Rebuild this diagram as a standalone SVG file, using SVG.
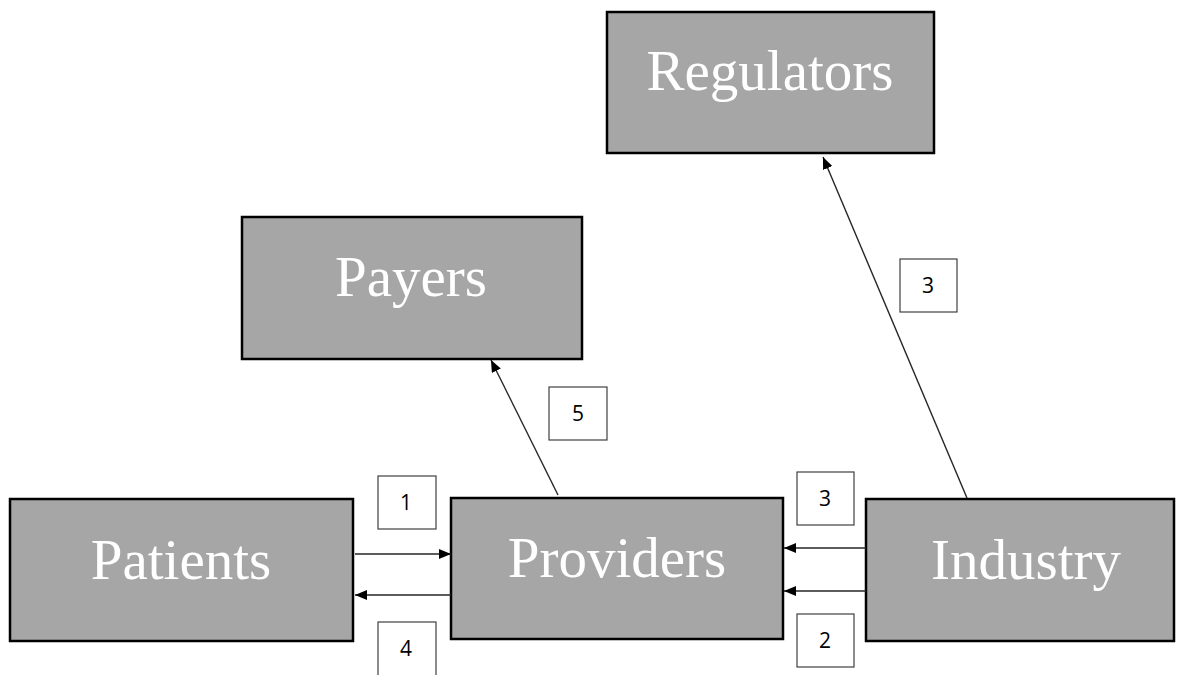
<svg xmlns="http://www.w3.org/2000/svg" width="1184" height="675" viewBox="0 0 1184 675">
<style>
.node rect{fill:#a6a6a6;stroke:#000;stroke-width:2.5}
.node text{font-family:"Liberation Serif","Times New Roman",serif;font-size:57px;fill:#fff;text-anchor:middle}
.lbl rect{fill:#fff;stroke:#404040;stroke-width:1.2}
.lbl text{font-family:"Open Sans","Liberation Sans",sans-serif;font-size:21px;fill:#000;text-anchor:middle}
.conn line{stroke:#262626;stroke-width:1.4;marker-end:url(#ah)}
</style>
<defs>
<marker id="ah" viewBox="0 0 12 10" refX="12" refY="5" markerWidth="12" markerHeight="10" markerUnits="userSpaceOnUse" orient="auto">
<path d="M0,0 L12,5 L0,10 Z" fill="#000"/>
</marker>
</defs>
<rect width="1184" height="675" fill="#fff"/>
<g id="regulators" class="node"><rect x="607" y="12" width="327" height="141"/><text x="770" y="90">Regulators</text></g>
<g id="payers" class="node"><rect x="242" y="217" width="340" height="142"/><text x="411" y="296">Payers</text></g>
<g id="patients" class="node"><rect x="10" y="499" width="343" height="142"/><text x="181" y="579">Patients</text></g>
<g id="providers" class="node"><rect x="451" y="498" width="332" height="141"/><text x="617" y="577">Providers</text></g>
<g id="industry" class="node"><rect x="866" y="499" width="308" height="142"/><text x="1026" y="579">Industry</text></g>
<g id="connectors" class="conn">
<line x1="355" y1="554" x2="451" y2="554"/>
<line x1="451" y1="595" x2="355" y2="595"/>
<line x1="866" y1="548" x2="784" y2="548"/>
<line x1="866" y1="591" x2="784" y2="591"/>
<line x1="558" y1="495" x2="491" y2="360"/>
<line x1="967" y1="498" x2="823" y2="157"/>
</g>
<g id="labels" class="lbl">
<g id="lbl1"><rect x="378" y="476" width="58" height="53"/><text x="406" y="510">1</text></g>
<g id="lbl4"><rect x="378" y="622" width="58" height="60"/><text x="406" y="656">4</text></g>
<g id="lbl3a"><rect x="797" y="472" width="57" height="53"/><text x="825" y="506">3</text></g>
<g id="lbl2"><rect x="797" y="614" width="57" height="53"/><text x="825" y="648">2</text></g>
<g id="lbl5"><rect x="549" y="387" width="58" height="53"/><text x="578" y="421">5</text></g>
<g id="lbl3b"><rect x="900" y="259" width="57" height="53"/><text x="928" y="293">3</text></g>
</g>
</svg>
